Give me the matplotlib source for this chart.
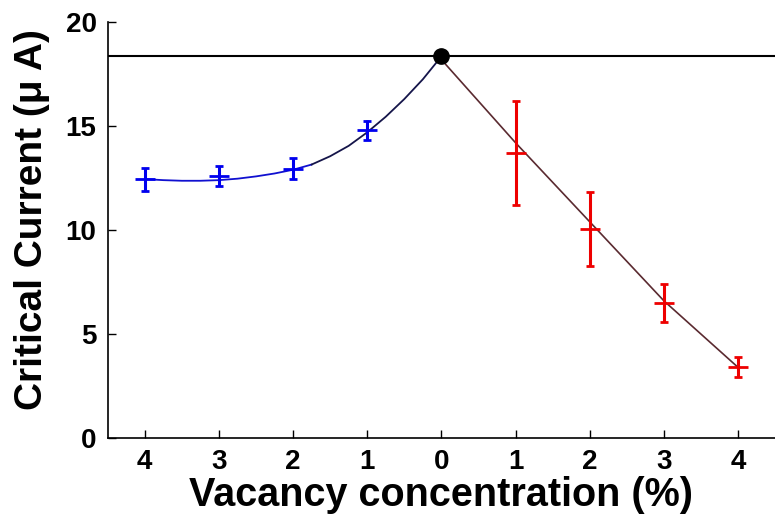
import numpy as np
import matplotlib
matplotlib.use("Agg")
import matplotlib.pyplot as plt
from matplotlib import font_manager

# pick a narrow bold sans if available
names = {f.name for f in font_manager.fontManager.ttflist}
fam = "Liberation Sans Narrow" if "Liberation Sans Narrow" in names else "Liberation Sans"
plt.rcParams["font.family"] = [fam, "DejaVu Sans"]
plt.rcParams["font.weight"] = "bold"

# left branch (plotted at negative x), right branch at positive x
blue_x = [-4, -3, -2, -1]
blue_y = [12.45, 12.6, 12.95, 14.8]
blue_err = [0.55, 0.5, 0.5, 0.45]
red_x = [1, 2, 3, 4]
red_y = [13.7, 10.05, 6.5, 3.4]
red_err = [2.5, 1.8, 0.9, 0.48]
pristine = 18.35

# fitted curves
fit_l_x = [-4.0, -3.75, -3.5, -3.25, -3.0, -2.75, -2.5, -2.25, -2.0, -1.75]
fit_l_y = [12.45, 12.4, 12.37, 12.37, 12.4, 12.47, 12.58, 12.72, 12.9, 13.15]
fit_d_x = [-1.75, -1.5, -1.25, -1.0, -0.75, -0.5, -0.25, 0.0]
fit_d_y = [13.15, 13.55, 14.05, 14.7, 15.45, 16.3, 17.25, 18.35]
fit_r_x = [0, 1, 2, 3, 4]
fit_r_y = [18.2, 14.2, 10.4, 6.6, 3.4]

xticks = [-4, -3, -2, -1, 0, 1, 2, 3, 4]
xlabels = [str(abs(t)) for t in xticks]

fig = plt.figure(figsize=(7.75, 5.27), dpi=100)
ax = fig.add_axes([0.139, 0.169, 0.861, 0.789])

ax.axhline(pristine, color="black", lw=1.5, zorder=1)
ax.plot(fit_l_x, fit_l_y, color="#1010d0", lw=1.3)
ax.plot(fit_d_x, fit_d_y, color="#15154a", lw=1.3)
ax.plot(fit_r_x, fit_r_y, color="#5a2a30", lw=1.2)

ax.errorbar(blue_x, blue_y, yerr=blue_err, fmt="+", color="#0000ee",
            ms=14, mew=2, elinewidth=2.2, capsize=3, capthick=2)
ax.errorbar(red_x, red_y, yerr=red_err, fmt="+", color="#ee0000",
            ms=14, mew=2, elinewidth=2.2, capsize=3, capthick=2)
ax.plot([0], [pristine], "o", color="black", ms=11, zorder=5)

ax.set_xlim(-4.5, 4.5)
ax.set_ylim(0, 20)
ax.set_xticks(xticks)
ax.set_xticklabels(xlabels)
ax.set_yticks([0, 5, 10, 15, 20])

for s in ("top", "right"):
    ax.spines[s].set_visible(False)
for s in ("left", "bottom"):
    ax.spines[s].set_linewidth(1.2)
ax.tick_params(direction="in", length=6, width=1, labelsize=20, pad=8)

ax.set_xlabel("Vacancy concentration (%)", fontsize=28.5, fontweight="bold", labelpad=1)
ax.set_ylabel("Critical Current (\u03bc A)", fontsize=28, fontweight="bold")
ax.yaxis.set_label_coords(-0.086, 0.525)

fig.savefig("out.png", dpi=100)
